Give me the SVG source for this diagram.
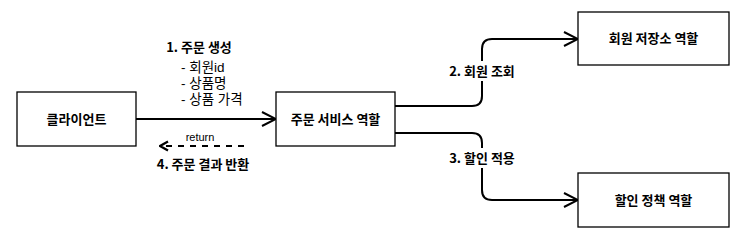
<svg xmlns="http://www.w3.org/2000/svg" width="743" height="244" viewBox="0 0 743 244">
<defs>
<style>
.box{fill:#fff;stroke:#000;stroke-width:1.3}
.t{font-family:"Noto Sans CJK KR","Liberation Sans",sans-serif;font-size:13px;fill:#000}
.s{font-family:"Liberation Sans","Noto Sans CJK KR",sans-serif;font-size:13.5px;fill:#000}
.b{font-weight:bold}
.c{text-anchor:middle}
.ln{fill:none;stroke:#000;stroke-width:2}
.lbl{fill:#fff}
</style>
<marker id="open" viewBox="0 0 16 16" markerWidth="16" markerHeight="16" refX="15" refY="8" orient="auto" markerUnits="userSpaceOnUse">
<path d="M1,1 L15,8 L1,15" fill="none" stroke="#000" stroke-width="2"/>
</marker>
<marker id="dart" viewBox="0 0 12 12" markerWidth="12" markerHeight="12" refX="11" refY="6" orient="auto" markerUnits="userSpaceOnUse">
<path d="M3,1.5 L11,6 L3,10.5" fill="none" stroke="#000" stroke-width="2.2"/>
</marker>
</defs>
<rect width="743" height="244" fill="#fff"/>
<g id="connectors">
<path class="ln" d="M136,119 L276,119" marker-end="url(#open)"/>
<path class="ln" d="M244,146 L160,146" stroke-dasharray="6,6" marker-end="url(#dart)"/>
<path class="ln" d="M395,106 L472,106 Q482,106 482,96 L482,49 Q482,39 492,39 L578,39" marker-end="url(#open)"/>
<path class="ln" d="M395,133 L472,133 Q482,133 482,143 L482,190 Q482,200 492,200 L578,200" marker-end="url(#open)"/>
<rect class="lbl" x="442" y="61" width="80" height="20"/>
<rect class="lbl" x="442" y="148" width="80" height="20"/>
<text class="t b c" x="199" y="52">1. 주문 생성</text>
<text class="s" x="181" y="72">- 회원id</text>
<text class="s" x="181" y="88">- 상품명</text>
<text class="s" x="181" y="104">- 상품 가격</text>
<text class="c" x="200" y="141" style="font-family:'Liberation Sans',sans-serif;font-size:11px">return</text>
<text class="t b c" x="203" y="169">4. 주문 결과 반환</text>
<text class="t b c" x="482" y="76">2. 회원 조회</text>
<text class="t b c" x="482" y="163">3. 할인 적용</text>
</g>
<g id="client">
<rect class="box" x="17" y="92" width="119" height="54"/>
<text class="t b c" x="76.5" y="124">클라이언트</text>
</g>
<g id="order-service">
<rect class="box" x="276" y="92" width="119" height="54"/>
<text class="t b c" x="335.5" y="124">주문 서비스 역할</text>
</g>
<g id="member-repo">
<rect class="box" x="578" y="12" width="151" height="53"/>
<text class="t b c" x="653.5" y="43">회원 저장소 역할</text>
</g>
<g id="discount-policy">
<rect class="box" x="578" y="173" width="151" height="54"/>
<text class="t b c" x="653.5" y="205">할인 정책 역할</text>
</g>
</svg>
